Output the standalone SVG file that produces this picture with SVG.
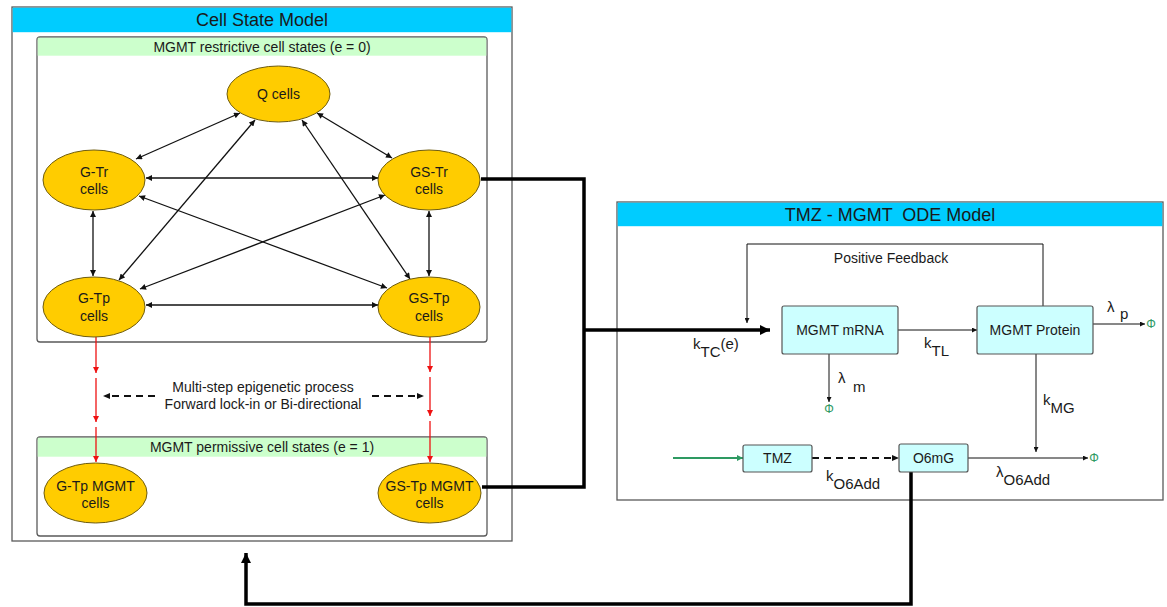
<svg xmlns="http://www.w3.org/2000/svg" width="1167" height="607" viewBox="0 0 1167 607">
  <defs>
    <style>
      text { font-family: "Liberation Sans", Arial, sans-serif; fill: #1a1a1a; }
      .title { font-size: 18px; text-anchor: middle; white-space: pre; }
      .hdr { font-size: 14px; text-anchor: middle; }
      .nl { font-size: 14px; text-anchor: middle; }
      .lbl { font-size: 15px; }
      .phi { font-size: 12px; fill: #2e9a62; text-anchor: middle; }
      .panel { fill: #ffffff; stroke: #5a5a5a; stroke-width: 1.3; }
      .sub { fill: #ffffff; stroke: #5a5a5a; stroke-width: 1.3; }
      .cyan { fill: #00ccff; }
      .green { fill: #ccffcc; }
      .cell { fill: #ffcc00; stroke: #6e5c10; stroke-width: 1; }
      .box { fill: #ccffff; stroke: #555555; stroke-width: 1.2; }
      .thin { fill: none; stroke: #111111; stroke-width: 1.3; }
      .bi { marker-start: url(#ah); marker-end: url(#ah); }
      .thick { fill: none; stroke: #000000; stroke-width: 3.5; }
      .red { fill: none; stroke: #ee1111; stroke-width: 1.3; marker-end: url(#ahr); }
      .dash { fill: none; stroke: #111111; stroke-width: 2.2; stroke-dasharray: 7 5; }
      .fine { fill: none; stroke: #111111; stroke-width: 1; marker-end: url(#ahs); }
    </style>
    <marker id="ah" viewBox="0 0 10 10" refX="10" refY="5" markerWidth="7" markerHeight="6" markerUnits="userSpaceOnUse" orient="auto-start-reverse">
      <path d="M0,0 L10,5 L0,10 z" fill="#111111"/>
    </marker>
    <marker id="ahs" viewBox="0 0 10 10" refX="10" refY="5" markerWidth="6" markerHeight="5" markerUnits="userSpaceOnUse" orient="auto-start-reverse">
      <path d="M0,0 L10,5 L0,10 z" fill="#111111"/>
    </marker>
    <marker id="ahr" viewBox="0 0 10 10" refX="10" refY="5" markerWidth="7" markerHeight="6" markerUnits="userSpaceOnUse" orient="auto">
      <path d="M0,0 L10,5 L0,10 z" fill="#ee1111"/>
    </marker>
    <marker id="ahg" viewBox="0 0 10 10" refX="10" refY="5" markerWidth="7" markerHeight="6" markerUnits="userSpaceOnUse" orient="auto">
      <path d="M0,0 L10,5 L0,10 z" fill="#2e9a62"/>
    </marker>
    <marker id="ahb" viewBox="0 0 10 10" refX="10" refY="5" markerWidth="11" markerHeight="10" markerUnits="userSpaceOnUse" orient="auto">
      <path d="M0,0 L10,5 L0,10 z" fill="#000000"/>
    </marker>
  </defs>

  <rect width="1167" height="607" fill="#ffffff"/>

  <!-- Cell state model panel -->
  <g id="cell-state-model">
    <rect class="panel" x="12" y="7" width="500" height="534"/>
    <rect class="cyan" x="12.7" y="7.7" width="498.6" height="24.5"/>
    <text class="title" x="262" y="26">Cell State Model</text>
  </g>

  <g id="restrictive-states">
    <rect class="sub" x="37" y="37" width="450" height="305" rx="3"/>
    <rect class="green" x="37.7" y="37.7" width="448.6" height="18"/>
    <text class="hdr" x="262" y="52">MGMT restrictive cell states (e = 0)</text>
  </g>

  <g id="permissive-states">
    <rect class="sub" x="37" y="437" width="450" height="99" rx="3"/>
    <rect class="green" x="37.7" y="437.7" width="448.6" height="19"/>
    <text class="hdr" x="262" y="452">MGMT permissive cell states (e = 1)</text>
  </g>

  <!-- ODE model panel -->
  <g id="ode-model">
    <rect class="panel" x="617" y="202" width="546" height="298"/>
    <rect class="cyan" x="617.7" y="202.7" width="544.6" height="23.5"/>
    <text class="title" x="890" y="221">TMZ - MGMT  ODE Model</text>
    <text class="nl" x="891" y="263">Positive Feedback</text>
  </g>

  <!-- Connectors -->
  <g id="connectors">
    <!-- transitions between restrictive states -->
    <path class="thin bi" d="M240,113 L136,159"/>
    <path class="thin bi" d="M317,113 L392,158"/>
    <path class="thin bi" d="M255,120 L119,280"/>
    <path class="thin bi" d="M302,120 L410,279"/>
    <path class="thin bi" d="M146,178 L378,178"/>
    <path class="thin bi" d="M139,196 L387,288"/>
    <path class="thin bi" d="M385,195 L140,289"/>
    <path class="thin bi" d="M93,211 L93,276"/>
    <path class="thin bi" d="M429,211 L429,276"/>
    <path class="thin bi" d="M146,305 L378,305"/>

    <!-- epigenetic steps -->
    <path class="red" d="M96,337 V373"/>
    <path class="red" d="M96,378 V422"/>
    <path class="red" d="M96,427 V462"/>
    <path class="red" d="M430,337 V372"/>
    <path class="red" d="M430,377 V416"/>
    <path class="red" d="M430,421 V462"/>
    <path class="dash" d="M155,396 H108"/>
    <path d="M103,396 L110,393 L110,399 z" fill="#111111"/>
    <path class="dash" d="M372,396 H418"/>
    <path d="M424,396 L417,393 L417,399 z" fill="#111111"/>

    <!-- coupling between the two models -->
    <path class="thick" d="M481,179 H584 V487 H482"/>
    <path class="thick" d="M584,330 H770" marker-end="url(#ahb)"/>
    <path class="thick" d="M911,472 V604 H246 V553" marker-end="url(#ahb)"/>

    <!-- ODE reactions -->
    <path class="fine" d="M1043,306 V244 H747 V323"/>
    <path class="fine" d="M898,330 H977"/>
    <path class="fine" d="M829,354 V402"/>
    <path class="fine" d="M1093,324 H1145"/>
    <path class="fine" d="M1036,354 V452"/>
    <path class="fine" d="M968,458 H1088"/>
    <path d="M673,458 H743" fill="none" stroke="#2e9a62" stroke-width="2" marker-end="url(#ahg)"/>
    <path class="dash" d="M812,458 H893"/>
    <path d="M899,458 L892,455 L892,461 z" fill="#111111"/>
  </g>

  <!-- Restrictive cell state nodes -->
  <g id="q-cells">
    <ellipse class="cell" cx="278.5" cy="94" rx="51.5" ry="28"/>
    <text class="nl" x="278.5" y="99">Q cells</text>
  </g>
  <g id="g-tr-cells">
    <ellipse class="cell" cx="94" cy="180" rx="51" ry="30"/>
    <text class="nl" x="94" y="177">G-Tr</text>
    <text class="nl" x="94" y="194">cells</text>
  </g>
  <g id="gs-tr-cells">
    <ellipse class="cell" cx="429" cy="180" rx="51" ry="30"/>
    <text class="nl" x="429" y="177">GS-Tr</text>
    <text class="nl" x="429" y="194">cells</text>
  </g>
  <g id="g-tp-cells">
    <ellipse class="cell" cx="94" cy="307" rx="51" ry="30"/>
    <text class="nl" x="94" y="303">G-Tp</text>
    <text class="nl" x="94" y="321">cells</text>
  </g>
  <g id="gs-tp-cells">
    <ellipse class="cell" cx="429" cy="307" rx="51" ry="30"/>
    <text class="nl" x="429" y="303">GS-Tp</text>
    <text class="nl" x="429" y="321">cells</text>
  </g>

  <!-- Permissive cell state nodes -->
  <g id="g-tp-mgmt-cells">
    <ellipse class="cell" cx="95.5" cy="493" rx="51.5" ry="30"/>
    <text class="nl" x="95.5" y="491">G-Tp MGMT</text>
    <text class="nl" x="95.5" y="508">cells</text>
  </g>
  <g id="gs-tp-mgmt-cells">
    <ellipse class="cell" cx="429.5" cy="493" rx="51.5" ry="30"/>
    <text class="nl" x="429.5" y="491">GS-Tp MGMT</text>
    <text class="nl" x="429.5" y="508">cells</text>
  </g>

  <g id="epigenetic-label">
    <text class="nl" x="263" y="392">Multi-step epigenetic process</text>
    <text class="nl" x="263" y="409">Forward lock-in or Bi-directional</text>
  </g>

  <!-- ODE species -->
  <g id="mgmt-mrna">
    <rect class="box" x="782" y="306" width="116" height="48" rx="2"/>
    <text class="nl" x="840" y="335">MGMT mRNA</text>
  </g>
  <g id="mgmt-protein">
    <rect class="box" x="977" y="306" width="116" height="48" rx="2"/>
    <text class="nl" x="1035" y="335">MGMT Protein</text>
  </g>
  <g id="tmz">
    <rect class="box" x="743" y="445" width="69" height="27" rx="2"/>
    <text class="nl" x="777.5" y="463">TMZ</text>
  </g>
  <g id="o6mg">
    <rect class="box" x="899" y="444" width="69" height="28" rx="2"/>
    <text class="nl" x="933.5" y="463">O6mG</text>
  </g>

  <!-- Rate labels and sinks -->
  <g id="rates">
    <text class="lbl" x="693" y="349">k<tspan dy="8">TC</tspan><tspan dy="-8">(e)</tspan></text>
    <text class="lbl" x="924" y="348">k<tspan dy="8">TL</tspan></text>
    <text class="lbl" x="838" y="383">λ<tspan x="853" dy="9">m</tspan></text>
    <text class="lbl" x="1107" y="312">λ<tspan x="1120" dy="7">p</tspan></text>
    <text class="lbl" x="1043" y="405">k<tspan dy="8">MG</tspan></text>
    <text class="lbl" x="826" y="481">k<tspan dy="8">O6Add</tspan></text>
    <text class="lbl" x="996" y="477">λ<tspan dy="8">O6Add</tspan></text>
    <text class="phi" x="829" y="413">Φ</text>
    <text class="phi" x="1151" y="328">Φ</text>
    <text class="phi" x="1094" y="462">Φ</text>
  </g>
</svg>
